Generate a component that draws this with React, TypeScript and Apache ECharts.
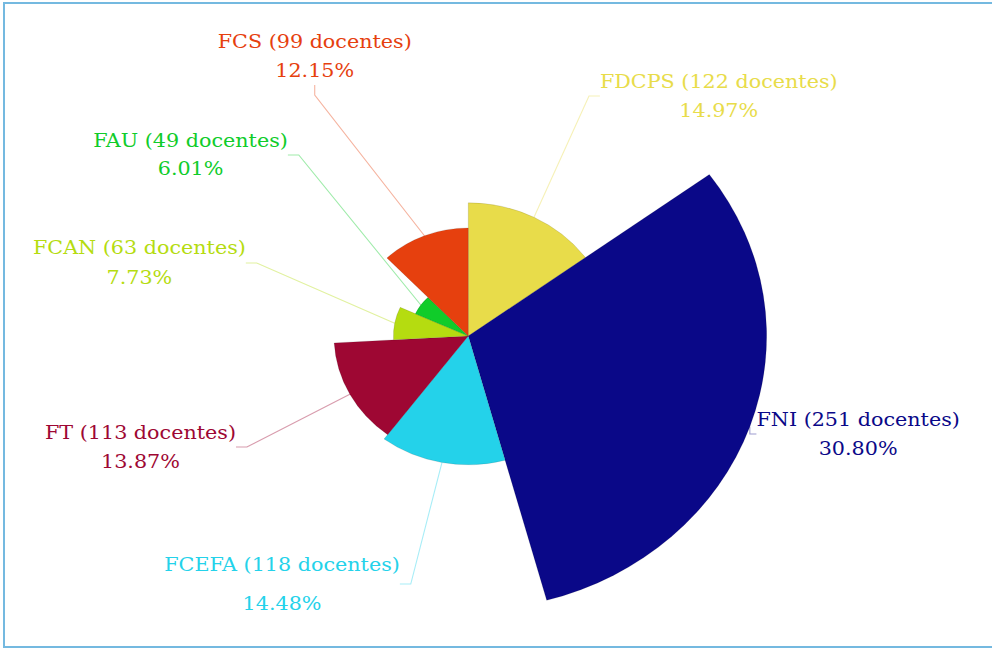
import React, { useEffect, useRef } from "react";
import * as echarts from "echarts";

// Data (clockwise from 12 o'clock)
const categories = ["FDCPS", "FNI", "FCEFA", "FT", "FCAN", "FAU", "FCS"];
const docentes = [122, 251, 118, 113, 63, 49, 99];
const colors = ["#e8dc4a", "#0a0888", "#24d2ea", "#9e0733", "#b5dc10", "#10cc2a", "#e6400e"];

// Layout (chart pixel coordinates, before horizontal stretch)
const STRETCH_X = 1.089;
const CHART_W = 911;
const CHART_H = 650;
const labelCenters: [number, number][] = [
  [660, 96],
  [788, 434],
  [259, 584],
  [129, 447],
  [128, 263],
  [175, 155],
  [289, 56],
];
const labelLineHeights = [29, 29, 39, 29, 30, 28, 29];

export default function App() {
  const ref = useRef<HTMLDivElement>(null);
  useEffect(() => {
    if (!ref.current) return;
    const chart = echarts.init(ref.current, undefined, { renderer: "svg" });
    const total = docentes.reduce((a, b) => a + b, 0);
    const data = categories.map((name, i) => ({
      name,
      value: docentes[i],
      itemStyle: { color: colors[i] },
      label: { color: colors[i], lineHeight: labelLineHeights[i] },
      labelLine: { lineStyle: { color: colors[i] } },
    }));
    chart.setOption({
      animation: false,
      series: [
        {
          type: "pie",
          roseType: "radius",
          center: [430, 336],
          radius: [0, 274],
          startAngle: 90,
          clockwise: true,
          data,
          itemStyle: { borderColor: "rgba(0,0,0,0.18)", borderWidth: 0.6 },
          label: {
            show: true,
            position: "outside",
            alignTo: "none",
            overflow: "none",
            fontFamily: "DejaVu Serif",
            fontSize: 19,
            lineHeight: 29,
            align: "center",
            formatter: (p: any) =>
              `${p.name} (${p.value} docentes)\n${((p.value / total) * 100).toFixed(2)}%`,
          },
          labelLine: {
            show: true,
            length: 10,
            length2: 10,
            lineStyle: { width: 1, opacity: 0.4 },
          },
          labelLayout: (params: any) => {
            const pos = labelCenters[params.dataIndex];
            return { x: pos[0], y: pos[1], align: "center", verticalAlign: "middle" };
          },
          emphasis: { disabled: true },
        },
      ],
    });
    return () => chart.dispose();
  }, []);

  return (
    <div
      style={{
        position: "fixed",
        left: 0,
        top: 0,
        width: 992,
        height: 650,
        overflow: "hidden",
        background: "#fff",
      }}
    >
      <div
        style={{
          position: "absolute",
          left: 3,
          top: 2,
          width: 1000,
          height: 646,
          border: "2px solid #74b9e0",
          boxSizing: "border-box",
        }}
      />
      <div
        ref={ref}
        style={{
          position: "absolute",
          left: 0,
          top: 0,
          width: CHART_W,
          height: CHART_H,
          transform: `scaleX(${STRETCH_X})`,
          transformOrigin: "0 0",
        }}
      />
    </div>
  );
}
